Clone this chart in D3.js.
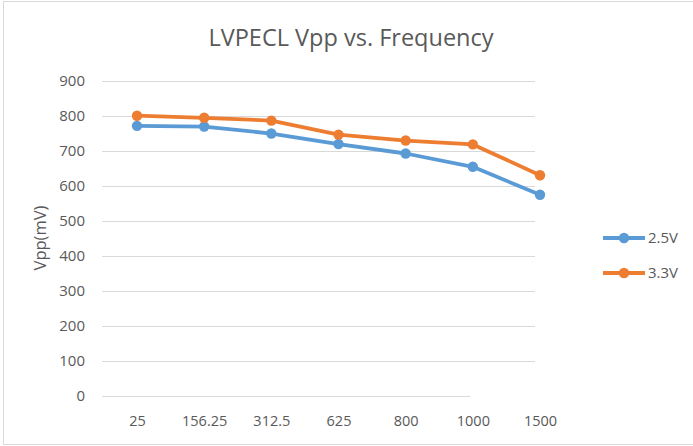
<!DOCTYPE html>
<html>
<head>
<meta charset="utf-8">
<script src="https://cdn.jsdelivr.net/npm/d3@7"></script>
<style>
  body { margin: 0; background: #fff; }
  svg { display: block; font-family: "Open Sans", sans-serif; }
</style>
</head>
<body>
<div id="chart"></div>
<script>
// data
const frequencies = ["25", "156.25", "312.5", "625", "800", "1000", "1500"];
const vpp25 = [771, 769, 749, 719, 692, 654, 574];
const vpp33 = [800, 794, 786, 746, 729, 718, 630];
const seriesNames = ["2.5V", "3.3V"];
const yTicks = [0, 100, 200, 300, 400, 500, 600, 700, 800, 900];

const width = 693, height = 446;
const colors = ["#5B9BD5", "#ED7D31"];
const textColor = "#595959";

const svg = d3.select("#chart")
    .append("svg")
    .attr("width", width)
    .attr("height", height);

// chart border
svg.append("rect")
    .attr("x", 3.5).attr("y", 1.5)
    .attr("width", 700).attr("height", 443)
    .attr("fill", "#fff")
    .attr("stroke", "#d9d9d9");

const x = d3.scalePoint()
    .domain(frequencies)
    .range([137, 540]);

const y = d3.scaleLinear()
    .domain([0, 900])
    .range([395.7, 80.7]);

const gridLeft = 102, gridRight = 535, axisRight = 470;

// gridlines
svg.append("g")
    .selectAll("line")
    .data(yTicks.filter(d => d > 0))
    .enter()
    .append("line")
    .attr("x1", gridLeft).attr("x2", gridRight)
    .attr("y1", d => Math.round(y(d)) + 0.5)
    .attr("y2", d => Math.round(y(d)) + 0.5)
    .attr("stroke", "#d9d9d9")
    .attr("stroke-width", 1.2);

// zero line
svg.append("line")
    .attr("x1", gridLeft).attr("x2", axisRight)
    .attr("y1", Math.round(y(0)) + 0.5)
    .attr("y2", Math.round(y(0)) + 0.5)
    .attr("stroke", "#d9d9d9")
    .attr("stroke-width", 1.2);

// y axis labels
const yAxis = d3.axisLeft(y)
    .tickValues(yTicks)
    .tickSize(0)
    .tickPadding(0);

svg.append("g")
    .attr("transform", "translate(85,0)")
    .call(yAxis)
    .call(g => g.select(".domain").remove())
    .call(g => g.selectAll("text")
        .attr("fill", textColor)
        .attr("dy", "0.35em")
        .style("font-family", "Open Sans")
        .style("font-size", "15px"));

// x axis labels
const xAxis = d3.axisBottom(x).tickSize(0).tickPadding(0);

svg.append("g")
    .attr("transform", "translate(0,426)")
    .call(xAxis)
    .call(g => g.select(".domain").remove())
    .call(g => g.selectAll("text")
        .attr("fill", textColor)
        .attr("dy", 0)
        .attr("y", 0)
        .style("font-family", "Open Sans")
        .style("font-size", "14.5px"));

// title
svg.append("text")
    .attr("x", 351)
    .attr("y", 46)
    .attr("text-anchor", "middle")
    .attr("fill", textColor)
    .style("font-size", "23.5px")
    .text("LVPECL Vpp vs. Frequency");

// y axis title
svg.append("text")
    .attr("transform", "translate(46,238) rotate(-90)")
    .attr("text-anchor", "middle")
    .attr("fill", textColor)
    .style("font-size", "16.5px")
    .text("Vpp(mV)");

// lines + markers
const series = [vpp25, vpp33];
const line = d3.line()
    .x((d, i) => x(frequencies[i]))
    .y(d => y(d));

series.forEach((vals, s) => {
    svg.append("path")
        .datum(vals)
        .attr("fill", "none")
        .attr("stroke", colors[s])
        .attr("stroke-width", 3.8)
        .attr("stroke-linejoin", "round")
        .attr("d", line);

    svg.selectAll(".dot" + s)
        .data(vals)
        .enter()
        .append("circle")
        .attr("class", "dot" + s)
        .attr("cx", (d, i) => x(frequencies[i]))
        .attr("cy", d => y(d))
        .attr("r", 5.2)
        .attr("fill", colors[s]);
});

// legend
const legend = svg.append("g");
const legendY = [238, 273];
seriesNames.forEach((name, s) => {
    legend.append("line")
        .attr("x1", 603).attr("x2", 645)
        .attr("y1", legendY[s]).attr("y2", legendY[s])
        .attr("stroke", colors[s])
        .attr("stroke-width", 3.8);
    legend.append("circle")
        .attr("cx", 624).attr("cy", legendY[s])
        .attr("r", 5.2)
        .attr("fill", colors[s]);
    legend.append("text")
        .attr("x", 648)
        .attr("y", legendY[s])
        .attr("dy", "0.35em")
        .attr("fill", textColor)
        .style("font-size", "15px")
        .text(name);
});
</script>
</body>
</html>
